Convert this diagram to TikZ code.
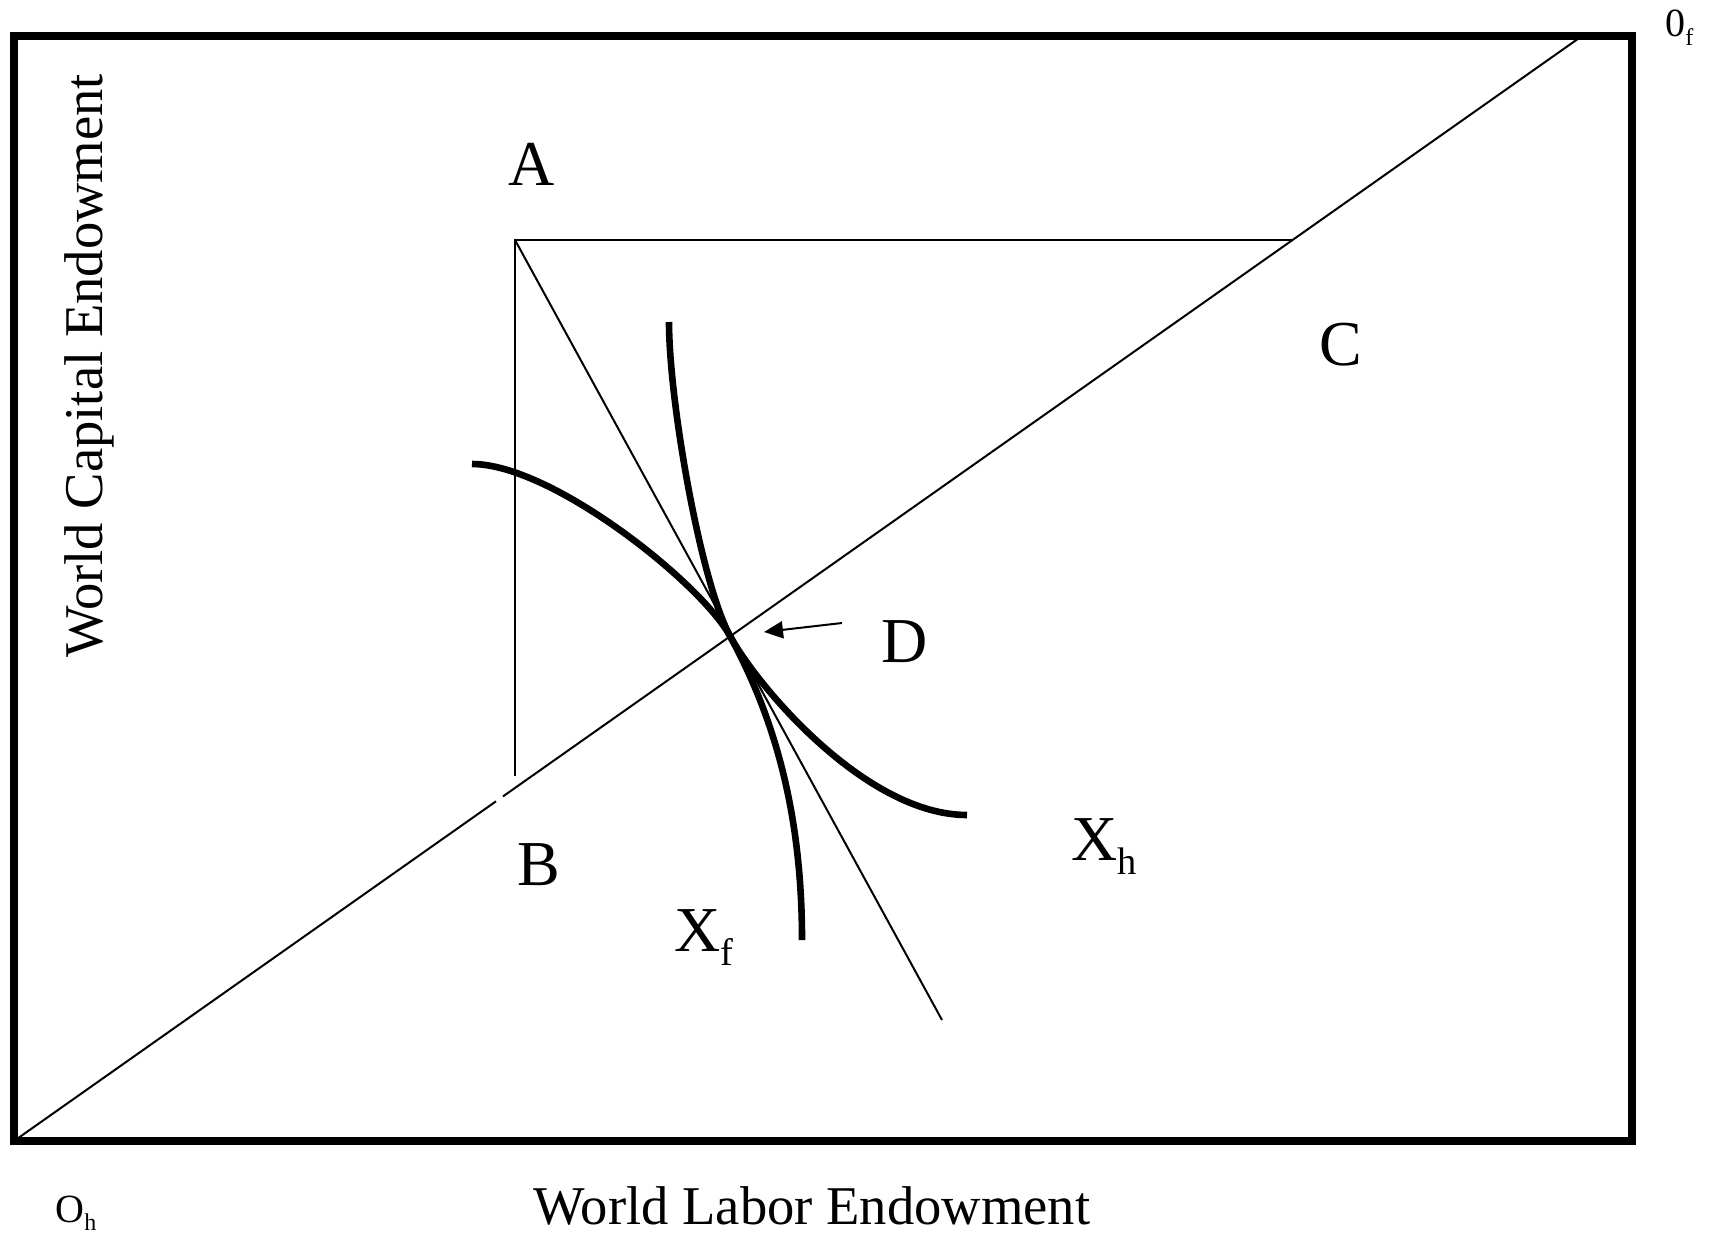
\documentclass[tikz,border=0pt]{standalone}
\usepackage{fontspec}
\setmainfont{Liberation Serif}
\usetikzlibrary{arrows.meta}
\newcommand\lsub[1]{\raisebox{-0.22em}{\scalebox{0.6}{#1}}}
\begin{document}
\begin{tikzpicture}[x=0.5pt,y=-0.5pt,
  frame/.style={line width=4pt},
  thinline/.style={line width=1pt},
  curveline/.style={line width=3.3pt},
  bigl/.style={font=\fontsize{32}{36}\selectfont, inner sep=0pt},
  axisl/.style={font=\fontsize{27.3}{32}\selectfont, inner sep=0pt},
  originl/.style={font=\fontsize{20}{24}\selectfont, inner sep=0pt}]
\useasboundingbox (0,0) rectangle (1714,1236);
% frame
\coordinate (FTL) at (14,36);
\coordinate (FBR) at (1632,1141);
\draw[frame] (FTL) rectangle (FBR);
% diagonal with small gap
\coordinate (Oh) at (14,1141);
\coordinate (Of) at (1582,36);
\coordinate (G1) at (496,801.3);
\coordinate (G2) at (503,796.4);
\draw[thinline] (Oh) -- (G1);
\draw[thinline] (G2) -- (Of);
% A-B-C lines
\coordinate (A) at (515,240);
\coordinate (C) at (1292.6,240);
\coordinate (Bt) at (515,776);
\coordinate (E) at (942,1020);
\draw[thinline] (Bt) -- (A) -- (C);
\draw[thinline] (A) -- (E);
% isoquants
\coordinate (D) at (730,636);
\coordinate (XfS) at (472,464);
\coordinate (XfE) at (802,940);
\coordinate (XhS) at (669,322);
\coordinate (XhE) at (967,815);
\draw[curveline] (XfS) .. controls (552,464) and (701,583) .. (D)
  .. controls (773,715) and (802,810) .. (XfE);
\draw[curveline] (XhS) .. controls (669,402) and (701,583) .. (D)
  .. controls (759,689) and (867,815) .. (XhE);
% arrow to D
\coordinate (Dtail) at (842,623);
\coordinate (Dpt) at (764,632);
\draw[thinline, -{Triangle[length=9.5pt,width=8.5pt]}] (Dtail) -- (Dpt);
% labels
\node[bigl, anchor=base] (la) at (532,185) {A};
\node[bigl, anchor=base] (lb) at (539,885) {B};
\node[bigl, anchor=base] (lc) at (1341,365) {C};
\node[bigl, anchor=base] (ld) at (905,662) {D};
\node[bigl, anchor=base west] (lxh) at (1071,860) {X\lsub{h}};
\node[bigl, anchor=base west] (lxf) at (674,951) {X\lsub{f}};
\node[originl, anchor=base west] (lof) at (1665,37) {0\lsub{f}};
\node[originl, anchor=base west] (loh) at (55,1222) {O\lsub{h}};
\node[axisl, anchor=base] (lx) at (812,1224) {World Labor Endowment};
\node[axisl, anchor=base, rotate=90] (ly) at (102,366) {World Capital Endowment};
\end{tikzpicture}
\end{document}
